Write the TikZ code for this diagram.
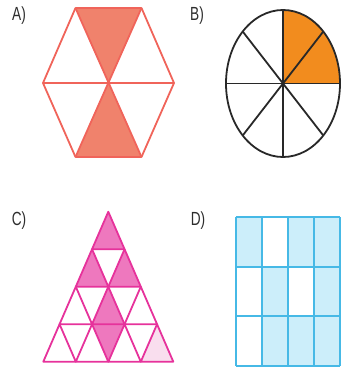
\documentclass[tikz,border=0pt]{standalone}
\usepackage{fontspec}
\setmainfont{Liberation Sans}
\definecolor{hexline}{RGB}{240,100,90}
\definecolor{hexfill}{RGB}{240,130,108}
\definecolor{orangefill}{RGB}{242,140,30}
\definecolor{circline}{RGB}{40,40,40}
\definecolor{triline}{RGB}{230,50,155}
\definecolor{trifill}{RGB}{238,120,190}
\definecolor{trilight}{RGB}{249,222,238}
\definecolor{gridline}{RGB}{70,185,230}
\definecolor{gridfill}{RGB}{204,238,250}
\definecolor{labelcol}{RGB}{45,45,45}
\begin{document}
\begin{tikzpicture}[x=1pt,y=-1pt,line join=round,
  lab/.style={font=\fontsize{19}{19}\selectfont, text=labelcol, xscale=0.72, inner sep=0pt},
  hexedge/.style={draw=hexline, line width=1.8pt},
  circedge/.style={draw=circline, line width=1.8pt},
  triedge/.style={draw=triline, line width=1.8pt},
  gridedge/.style={draw=gridline, line width=1.8pt}]
\useasboundingbox (0,0) rectangle (348,367);

% labels
\node[lab] (la) at (19,16) {A)};
\node[lab] (lb) at (197,16) {B)};
\node[lab] (lc) at (19,221) {C)};
\node[lab] (ld) at (198,221) {D)};

% ---- A: hexagon
\coordinate (tl) at (75.5,8);
\coordinate (tr) at (141.5,8);
\coordinate (r) at (174,83);
\coordinate (br) at (141.5,157);
\coordinate (bl) at (75.5,157);
\coordinate (l) at (43,83);
\coordinate (hc) at (108.5,83);
\fill[hexfill] (tl) -- (tr) -- (hc) -- cycle;
\fill[hexfill] (hc) -- (bl) -- (br) -- cycle;
\draw[hexedge] (tl) -- (tr) -- (r) -- (br) -- (bl) -- (l) -- cycle;
\draw[hexedge] (l) -- (r);
\draw[hexedge] (tl) -- (br);
\draw[hexedge] (tr) -- (bl);

% ---- B: ellipse
\coordinate (ec) at (283,83.5);
\coordinate (et) at (283,10);
\coordinate (eb) at (283,157);
\coordinate (el) at (226,83.5);
\coordinate (er) at (340,83.5);
\coordinate (e1) at (323.3,31.5);
\coordinate (e2) at (242.7,31.5);
\coordinate (e3) at (242.7,135.5);
\coordinate (e4) at (323.3,135.5);
\fill[orangefill] (ec) -- (et) arc[start angle=90, end angle=0, x radius=57pt, y radius=73.5pt] -- cycle;
\draw[circedge] (ec) ellipse[x radius=57pt, y radius=73.5pt];
\draw[circedge] (et) -- (eb);
\draw[circedge] (el) -- (er);
\draw[circedge] (e1) -- (e3);
\draw[circedge] (e2) -- (e4);

% ---- C: triangle grid
\foreach \i in {0,...,4} {
  \foreach \j in {0,...,\i} {
    \coordinate (p\i\j) at ({108.3+(\j-\i/2)*32.5},{211.7+\i*37.5});
  }
}
\fill[trifill] (p00) -- (p10) -- (p11) -- cycle;
\fill[trifill] (p10) -- (p20) -- (p21) -- cycle;
\fill[trifill] (p11) -- (p21) -- (p22) -- cycle;
\fill[trifill] (p21) -- (p31) -- (p32) -- cycle;
\fill[trifill] (p31) -- (p32) -- (p42) -- cycle;
\fill[trilight] (p33) -- (p43) -- (p44) -- cycle;
\foreach \r in {0,...,3} {
  \foreach \k in {0,...,\r} {
    \pgfmathtruncatemacro\rr{\r+1}
    \pgfmathtruncatemacro\kk{\k+1}
    \draw[triedge] (p\r\k) -- (p\rr\k) -- (p\rr\kk) -- cycle;
  }
}

% ---- D: grid
\def\gx{235.8}\def\gw{26}\def\gy{217.3}\def\gh{49.5}
\foreach \row/\col in {0/0,0/2,0/3,1/1,1/3,2/1,2/2,2/3} {
  \fill[gridfill] ({\gx+\col*\gw},{\gy+\row*\gh}) rectangle ++(\gw,\gh);
}
\foreach \c in {0,...,4} {
  \draw[gridedge] ({\gx+\c*\gw},\gy) -- ({\gx+\c*\gw},{\gy+3*\gh});
}
\foreach \rw in {0,...,3} {
  \draw[gridedge] (\gx,{\gy+\rw*\gh}) -- ({\gx+4*\gw},{\gy+\rw*\gh});
}
\end{tikzpicture}
\end{document}
